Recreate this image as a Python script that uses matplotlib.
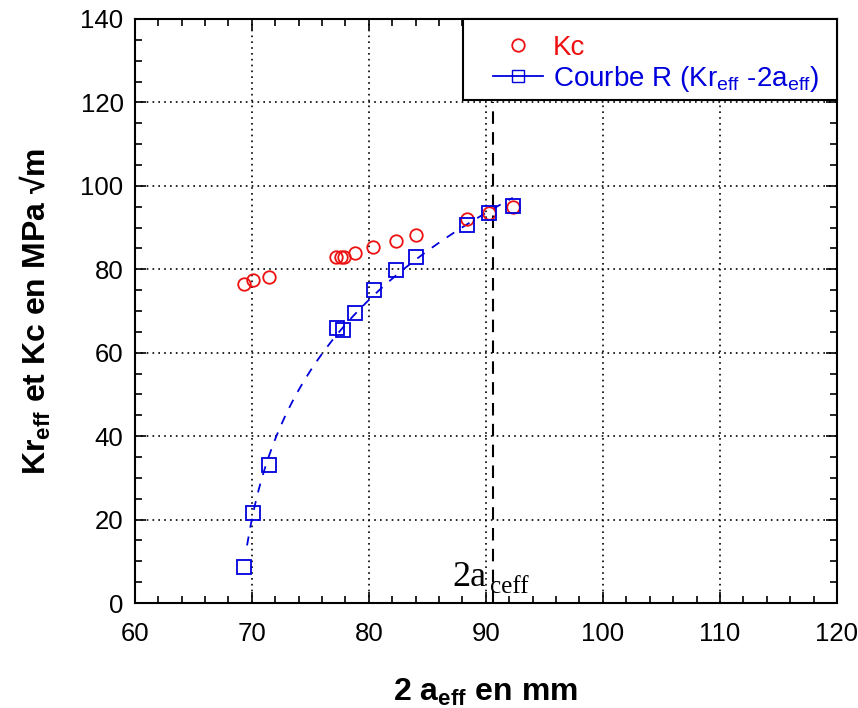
import numpy as np
import matplotlib
matplotlib.use("Agg")
import matplotlib.pyplot as plt
from matplotlib.ticker import MultipleLocator
from matplotlib.patches import Rectangle

# Data
kc_x = [69.3, 70.1, 71.5, 77.2, 77.6, 77.9, 78.8, 80.4, 82.3, 84.0, 88.4, 90.3, 92.3]
kc_y = [76.5, 77.4, 78.2, 82.9, 82.9, 82.9, 84.0, 85.3, 86.7, 88.2, 92.0, 93.5, 95.0]

r_x = [69.3, 70.1, 71.5, 77.3, 77.8, 78.8, 80.45, 82.3, 84.0, 88.35, 90.3, 92.3]
r_y = [8.7, 21.5, 33.0, 66.0, 65.5, 69.5, 75.0, 79.8, 83.0, 90.6, 93.4, 95.2]

a_ceff = 90.6
xticks = [60, 70, 80, 90, 100, 110, 120]
yticks = [0, 20, 40, 60, 80, 100, 120, 140]

plt.rcParams['font.family'] = ['Liberation Sans', 'DejaVu Sans']
plt.rcParams['mathtext.fontset'] = 'custom'
plt.rcParams['mathtext.rm'] = 'Liberation Sans'
plt.rcParams['mathtext.bf'] = 'Liberation Sans:bold'

fig = plt.figure(figsize=(8.58, 7.08), dpi=100)
ax = fig.add_axes([0.157, 0.1483, 0.8185, 0.8249])

# fitted R-curve (smooth fit of the R-curve points)
rx = np.array(r_x)
ry = np.array(r_y)
coef = np.polyfit(np.log(rx - 69.0), ry, 2)
xf = np.linspace(69.6, 92.3, 200)
yf = np.polyval(coef, np.log(xf - 69.0))
ax.plot(xf, yf, color='#0000dd', lw=1.3, dashes=(5, 5), zorder=3)

ax.plot(kc_x, kc_y, linestyle='none', marker='o', ms=9, mfc='none', mec='#ee1111',
        mew=1.3, zorder=4, label='Kc')
ax.plot(r_x, r_y, linestyle='none', marker='s', ms=10, mfc='none', mec='#0000dd',
        mew=1.3, zorder=5)
# legend proxy
ax.plot([], [], color='#0000dd', lw=1.3, marker='s', ms=9, mfc='none', mec='#0000dd',
        label=r'Courbe R (Kr$_{\mathrm{eff}}$ -2a$_{\mathrm{eff}}$)')

ax.plot([a_ceff, a_ceff], [0, 120], color='black', lw=1.5, dashes=(6, 4), zorder=2)
ax.text(87.18, 4.1, '2a', family='Liberation Serif', fontsize=26, color='black', zorder=6)
ax.text(90.34, 2.4, 'ceff', family='Liberation Serif', fontsize=18, color='black', zorder=6)

ax.set_xlim(60, 120)
ax.set_ylim(0, 140)
ax.set_xticks(xticks)
ax.set_yticks(yticks)
ax.xaxis.set_minor_locator(MultipleLocator(2))
ax.yaxis.set_minor_locator(MultipleLocator(5))
ax.tick_params(which='both', direction='in', top=True, right=True, labelsize=18.5,
               width=1.2, colors='black')
ax.tick_params(which='major', length=8)
ax.tick_params(which='minor', length=5)
ax.tick_params(axis='x', pad=14)
ax.tick_params(axis='y', pad=8)
ax.grid(True, which='major', color='black', linestyle=(0, (1, 2.5)), lw=1.2)
for s in ax.spines.values():
    s.set_linewidth(1.5)

ax.set_xlabel(r'2 a$_{\mathbf{eff}}$ en mm', fontsize=23, fontweight='bold', labelpad=22)
ax.set_ylabel(r'Kr$_{\mathbf{eff}}$ et Kc en MPa √m', fontsize=23, fontweight='bold', labelpad=20)

# legend frame
ax.add_patch(Rectangle((0.467, 0.861), 0.533, 0.139, transform=ax.transAxes,
                       facecolor='white', edgecolor='black', lw=1.5, zorder=7,
                       clip_on=False))
leg = ax.legend(loc='upper left', bbox_to_anchor=(0.494, 0.992), fontsize=20,
                frameon=False, borderaxespad=0, handlelength=1.8, borderpad=0.4,
                labelspacing=0.1, handletextpad=0.36)
leg.set_zorder(8)
for txt, col in zip(leg.get_texts(), ['#ee1111', '#0000dd']):
    txt.set_color(col)

fig.savefig('out.png', dpi=100)
